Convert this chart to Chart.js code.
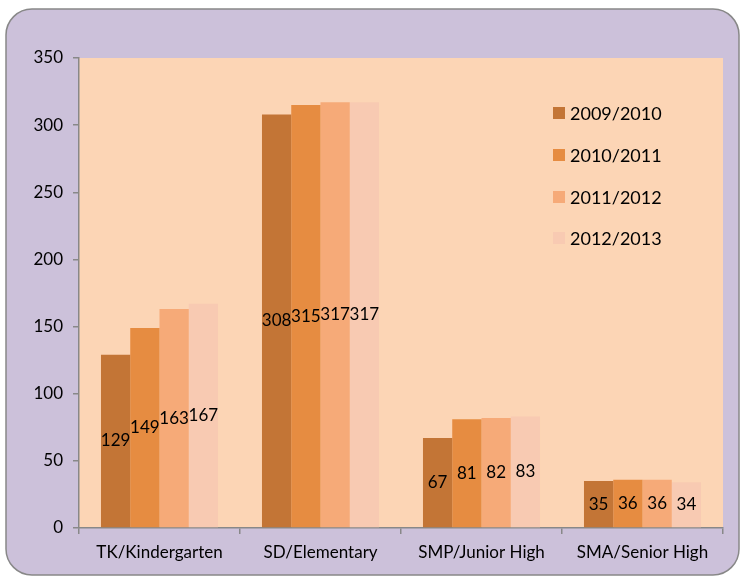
<!DOCTYPE html>
<html><head><meta charset="utf-8">
<script src="https://cdn.jsdelivr.net/npm/chart.js@4"></script>
<style>html,body{margin:0;padding:0;background:#fff}#wrap{width:744px;height:584px}</style>
</head><body><div id="wrap"><canvas id="c" width="744" height="584"></canvas></div>
<script>
const categories = ["TK/Kindergarten","SD/Elementary","SMP/Junior High","SMA/Senior High"];
const seriesLabels = ["2009/2010","2010/2011","2011/2012","2012/2013"];
const s2009 = [129,308,67,35];
const s2010 = [149,315,81,36];
const s2011 = [163,317,82,36];
const s2012 = [167,317,83,34];
const yTicks = [0,50,100,150,200,250,300,350];
const colors = ["#C37536","#E68C41","#F6AA78","#F8CAB2"];
const FONT = "Lato, 'Open Sans', sans-serif";

const bgPlugin = {
  id:'bg',
  beforeDraw(chart){
    const ctx = chart.ctx, a = chart.chartArea;
    ctx.save();
    const x=6,y=9,w=733,h=566,r=26;
    ctx.beginPath();
    ctx.moveTo(x+r,y);ctx.lineTo(x+w-r,y);ctx.arcTo(x+w,y,x+w,y+r,r);
    ctx.lineTo(x+w,y+h-r);ctx.arcTo(x+w,y+h,x+w-r,y+h,r);
    ctx.lineTo(x+r,y+h);ctx.arcTo(x,y+h,x,y+h-r,r);
    ctx.lineTo(x,y+r);ctx.arcTo(x,y,x+r,y,r);ctx.closePath();
    ctx.fillStyle="#CCC1DA";ctx.fill();
    ctx.lineWidth=1.5;ctx.strokeStyle="#888888";ctx.stroke();
    ctx.fillStyle="#FCD5B5";
    ctx.fillRect(a.left,a.top,a.right-a.left,a.bottom-a.top);
    ctx.restore();
  }
};
const labelPlugin = {
  id:'lbl',
  afterDatasetsDraw(chart){
    const ctx=chart.ctx;
    ctx.save();
    ctx.font="17px "+FONT;ctx.fillStyle="#000";ctx.textAlign="center";ctx.textBaseline="middle";
    chart.data.datasets.forEach((ds,i)=>{
      const meta=chart.getDatasetMeta(i);
      meta.data.forEach((bar,j)=>{
        const yc=(bar.y+bar.base)/2;
        ctx.fillText(String(ds.data[j]),bar.x,yc);
      });
    });
    // legend
    ctx.textAlign="left";ctx.font="18px "+FONT;
    const lx=553, ly=[113,155,197,238];
    chart.data.datasets.forEach((ds,i)=>{
      ctx.fillStyle=ds.backgroundColor;
      ctx.fillRect(lx,ly[i]-6,12,12);
      ctx.fillStyle="#000";
      ctx.fillText(ds.label,lx+17,ly[i]+1);
    });
    ctx.restore();
  }
};

new Chart(document.getElementById('c'),{
  type:'bar',
  data:{
    labels:categories,
    datasets:[s2009,s2010,s2011,s2012].map((d,i)=>({label:seriesLabels[i],data:d,backgroundColor:colors[i],borderWidth:0,categoryPercentage:0.727,barPercentage:1}))
  },
  options:{
    responsive:false,animation:false,devicePixelRatio:1,
    layout:{padding:{left:0,top:58,right:21,bottom:0}},
    plugins:{legend:{display:false},tooltip:{enabled:false}},
    scales:{
      x:{
        grid:{display:true,drawOnChartArea:false,drawTicks:true,tickLength:6,offset:true,color:"#888888",lineWidth:1.5},
        border:{display:true,color:"#888888",width:1.5},
        ticks:{font:{family:FONT,size:17},color:"#000",padding:8,maxRotation:0},
        afterFit(s){s.height=56;}
      },
      y:{
        min:0,max:350,
        afterBuildTicks(s){s.ticks=yTicks.map(v=>({value:v}));},
        grid:{display:true,drawOnChartArea:false,drawTicks:true,tickLength:6,color:"#888888",lineWidth:1.5},
        border:{display:true,color:"#888888",width:1.5},
        ticks:{font:{family:FONT,size:17},color:"#000",padding:10},
        afterFit(s){s.width=79;}
      }
    }
  },
  plugins:[bgPlugin,labelPlugin]
});
</script></body></html>
